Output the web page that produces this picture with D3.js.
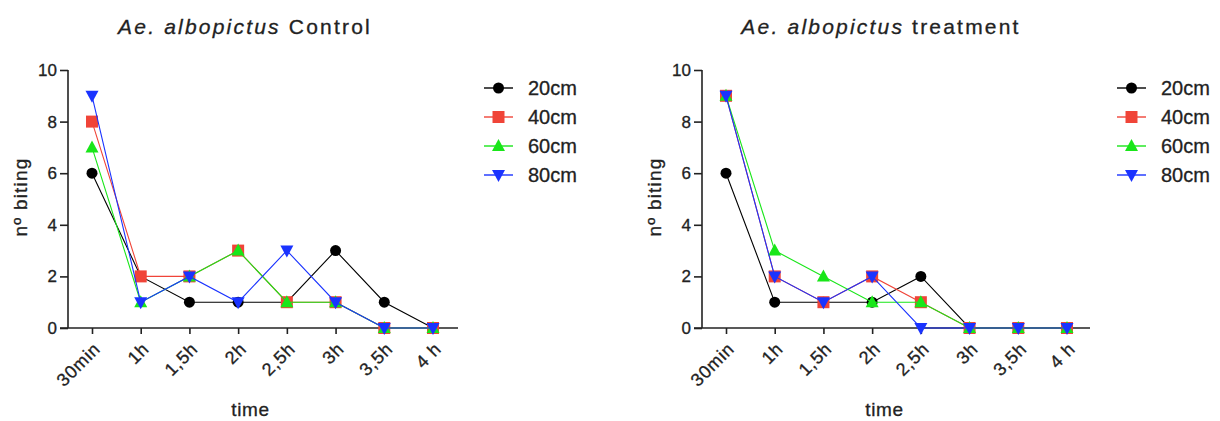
<!DOCTYPE html>
<html>
<head>
<meta charset="utf-8">
<script src="https://cdn.jsdelivr.net/npm/d3@7"></script>
<style>
  body { margin: 0; background: #fff; }
  svg { font-family: "Liberation Sans", Arial, sans-serif; }
  svg text { stroke: #222; stroke-width: 0.3px; }
</style>
</head>
<body>
<svg id="chart" width="1220" height="421"></svg>
<script>
"use strict";

var times = ["30min", "1h", "1,5h", "2h", "2,5h", "3h", "3,5h", "4 h"];
var seriesNames = ["20cm", "40cm", "60cm", "80cm"];
var seriesColors = ["#000000", "#f04438", "#19e619", "#1a33ff"];
var seriesSymbols = ["circle", "square", "triangle", "down"];

// Control panel
var control20 = [6, 2, 1, 1, 1, 3, 1, 0];
var control40 = [8, 2, 2, 3, 1, 1, 0, 0];
var control60 = [7, 1, 2, 3, 1, 1, 0, 0];
var control80 = [9, 1, 2, 1, 3, 1, 0, 0];

// Treatment panel
var treat20 = [6, 1, 1, 1, 2, 0, 0, 0];
var treat40 = [9, 2, 1, 2, 1, 0, 0, 0];
var treat60 = [9, 3, 2, 1, 1, 0, 0, 0];
var treat80 = [9, 2, 1, 2, 0, 0, 0, 0];

var yTicks = [0, 2, 4, 6, 8, 10];

var svg = d3.select("#chart");

function symbolPath(kind) {
  var g = d3.path();
  if (kind === "circle") { g.arc(0, 0, 5.5, 0, 2 * Math.PI); }
  else if (kind === "square") { g.rect(-6, -6, 12, 12); }
  else if (kind === "triangle") { g.moveTo(0, -7); g.lineTo(6.5, 5); g.lineTo(-6.5, 5); g.closePath(); }
  else { g.moveTo(0, 7); g.lineTo(6.5, -5); g.lineTo(-6.5, -5); g.closePath(); }
  return g.toString();
}

function drawPanel(p) {
  var x = d3.scalePoint().domain(times).range([p.x0, p.x1]);
  var y = d3.scaleLinear().domain([0, 10]).range([328, 70]);
  var g = svg.append("g");

  // title
  var t = g.append("text")
      .attr("x", p.titleX).attr("y", 34)
      .attr("text-anchor", "middle")
      .style("font-size", "21px").style("letter-spacing", "2.2px").style("fill", "#222");
  t.append("tspan").style("font-style", "italic").text("Ae. albopictus");
  t.append("tspan").text(" " + p.title);

  // y axis
  var ya = g.append("g")
      .attr("transform", "translate(" + p.axisX + ",0)")
      .call(d3.axisLeft(y).tickValues(yTicks).tickSize(8).tickPadding(3));
  ya.select(".domain").attr("stroke", "#222").attr("stroke-width", 1.6)
      .attr("d", "M0," + y(10) + "V" + y(0));
  ya.selectAll(".tick line").attr("stroke", "#222").attr("stroke-width", 1.6);
  ya.selectAll(".tick text").style("font-size", "17px").style("fill", "#222");

  // x axis
  var xa = g.append("g")
      .attr("transform", "translate(0," + y(0) + ")")
      .call(d3.axisBottom(x).tickSize(6).tickPadding(0));
  xa.select(".domain").attr("stroke", "#222").attr("stroke-width", 1.6)
      .attr("d", "M" + (p.axisX - 8) + ",0H" + p.axisEnd);
  xa.selectAll(".tick line").attr("stroke", "#222").attr("stroke-width", 1.6);
  xa.selectAll(".tick text")
      .attr("text-anchor", "end")
      .attr("dy", null).attr("y", 0)
      .attr("transform", "translate(9,22) rotate(-45)")
      .style("font-size", "18px").style("letter-spacing", "0.8px").style("fill", "#222");

  // axis titles
  g.append("text")
      .attr("transform", "translate(" + (p.axisX - 41) + "," + (y(5) - 2) + ") rotate(-90)")
      .attr("text-anchor", "middle")
      .style("font-size", "19px").style("letter-spacing", "1.2px").style("fill", "#222")
      .text("nº biting");
  g.append("text")
      .attr("x", (p.x0 + p.x1) / 2 - 12).attr("y", 416)
      .attr("text-anchor", "middle")
      .style("font-size", "19px").style("letter-spacing", "0.6px").style("fill", "#222")
      .text("time");

  // series
  var line = d3.line().x(function(d, i) { return x(times[i]); }).y(function(d) { return y(d); });
  p.series.forEach(function(vals, k) {
    g.append("path")
        .datum(vals)
        .attr("fill", "none")
        .attr("stroke", seriesColors[k])
        .attr("stroke-width", 1.1)
        .attr("d", line);
    g.selectAll(".pt" + k)
        .data(vals)
      .enter().append("path")
        .attr("transform", function(d, i) { return "translate(" + x(times[i]) + "," + y(d) + ")"; })
        .attr("d", symbolPath(seriesSymbols[k]))
        .attr("fill", seriesColors[k]);
  });

  // legend
  seriesNames.forEach(function(name, k) {
    var ly = 88 + k * 29;
    g.append("line")
        .attr("x1", p.legX).attr("x2", p.legX + 29)
        .attr("y1", ly).attr("y2", ly)
        .attr("stroke", seriesColors[k]).attr("stroke-width", 1.4);
    g.append("path")
        .attr("transform", "translate(" + (p.legX + 14.5) + "," + ly + ")")
        .attr("d", symbolPath(seriesSymbols[k]))
        .attr("fill", seriesColors[k]);
    g.append("text")
        .attr("x", p.legX + 44).attr("y", ly + 7)
        .style("font-size", "20px").style("fill", "#222")
        .text(name);
  });
}

drawPanel({
  title: "Control", titleX: 245,
  axisX: 68, x0: 92, x1: 433, axisEnd: 458, legX: 484,
  series: [control20, control40, control60, control80]
});

drawPanel({
  title: "treatment", titleX: 881,
  axisX: 702, x0: 726, x1: 1067, axisEnd: 1090, legX: 1117,
  series: [treat20, treat40, treat60, treat80]
});
</script>
</body>
</html>
